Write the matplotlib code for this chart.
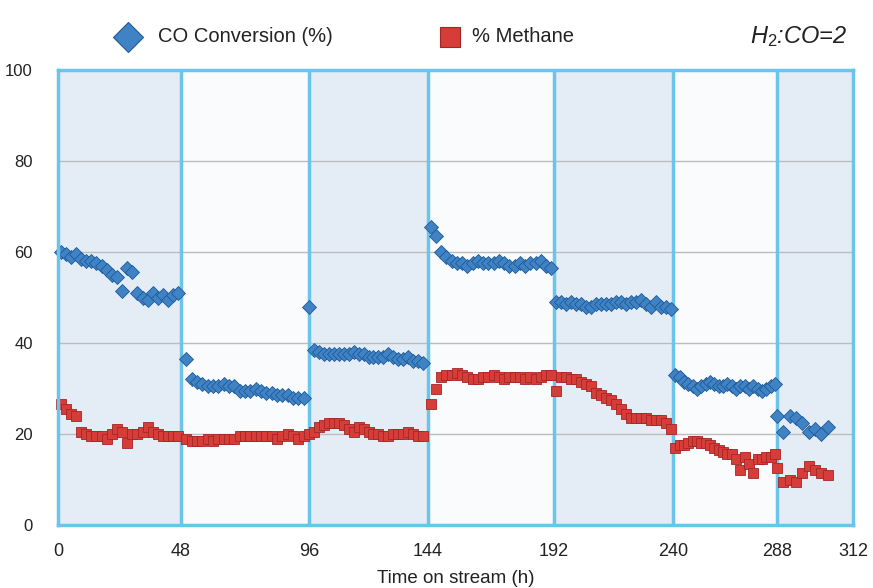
import matplotlib
matplotlib.use("Agg")
import matplotlib.pyplot as plt
import numpy as np
from matplotlib.lines import Line2D

plt.rcParams["font.family"] = ["Liberation Sans", "DejaVu Sans"]
plt.rcParams["mathtext.fontset"] = "custom"
plt.rcParams["mathtext.it"] = "Liberation Sans:italic"
plt.rcParams["mathtext.rm"] = "Liberation Sans"

# run boundaries (h) and where they sit on the original (uneven) axis
hour_breaks = [0, 48, 96, 144, 192, 240, 288, 312]
axis_breaks = [0, 123, 251, 370, 496, 615, 719, 795]

# sampling times for each run
times = [
    np.arange(1, 48, 2),
    np.arange(50, 95, 2),
    np.arange(96, 143, 2),
    np.arange(145, 192, 2),
    np.arange(193, 240, 2),
    np.arange(241, 288, 2),
    np.arange(288, 305, 2),
]

co_conv = [
    [60, 59.5, 59, 59.5, 58.5, 58, 58, 57.5, 57, 56, 55, 54.5,
     51.5, 56.5, 55.5, 51, 50, 49.5, 51, 50, 50.5, 49.5, 50.5, 51],
    [36.5, 32, 31.5, 31, 30.5, 30.5, 30.5, 31, 30.5, 30.5, 29.5, 29.5,
     29.5, 30, 29.5, 29, 29, 28.5, 28.5, 28.5, 28, 28, 28],
    [48, 38.5, 38, 37.5, 37.5, 37.5, 37.5, 37.5, 37.5, 38, 37.5, 37.5,
     37, 37, 37, 37, 37.5, 37, 36.5, 36.5, 37, 36, 36, 35.5],
    [65.5, 63.5, 60, 59, 58, 57.5, 57.5, 57, 57.5, 58, 57.5, 57.5,
     57.5, 58, 57.5, 57, 57, 57.5, 57, 57.5, 57.5, 58, 57, 56.5],
    [49, 49, 48.5, 49, 48.5, 48.5, 48, 48, 48.5, 48.5, 48.5, 48.5,
     49, 49, 48.5, 49, 49, 49.5, 48.5, 48, 49, 48, 48, 47.5],
    [33, 32.5, 31.5, 31, 30.5, 30, 30.5, 31, 31.5, 31, 30.5, 30.5,
     31, 30.5, 30, 30.5, 30.5, 30, 30.5, 30, 29.5, 30, 30.5, 31],
    [24, 20.5, 24, 23.5, 22.5, 20.5, 21, 20, 21.5],
]

methane = [
    [26.5, 25.5, 24.5, 24, 20.5, 20, 19.5, 19.5, 19.5, 19, 20, 21,
     20.5, 18, 20, 20, 20.5, 21.5, 20.5, 20, 19.5, 19.5, 19.5, 19.5],
    [19, 18.5, 18.5, 18.5, 19, 18.5, 19, 19, 19, 19, 19.5, 19.5,
     19.5, 19.5, 19.5, 19.5, 19.5, 19, 19.5, 20, 19.5, 19, 19.5],
    [20, 20.5, 21.5, 22, 22.5, 22.5, 22.5, 22, 21, 20.5, 21.5, 21,
     20.5, 20, 20, 19.5, 19.5, 20, 20, 20, 20.5, 20, 19.5, 19.5],
    [26.5, 30, 32.5, 33, 33, 33.5, 33, 32.5, 32, 32, 32.5, 32.5,
     33, 32.5, 32, 32.5, 32.5, 32.5, 32, 32.5, 32, 32.5, 33, 33],
    [29.5, 32.5, 32.5, 32, 32, 31.5, 31, 30.5, 29, 28.5, 28, 27.5,
     26.5, 25.5, 24.5, 23.5, 23.5, 23.5, 23.5, 23, 23, 23, 22.5, 21],
    [17, 17.5, 17.5, 18, 18.5, 18.5, 18, 18, 17.5, 17, 16.5, 16,
     15.5, 15.5, 14.5, 12, 15, 13.5, 11.5, 14.5, 14.5, 15, 15, 15.5],
    [12.5, 9.5, 10, 9.5, 11.5, 13, 12, 11.5, 11],
]

x_ticks = hour_breaks
y_ticks = [0, 20, 40, 60, 80, 100]

BLUE = "#3f83c5"
BLUE_EDGE = "#1d5a98"
RED = "#d63c38"
RED_EDGE = "#a32624"
FRAME = "#6cc4ea"


def fwd(x):
    return np.interp(x, hour_breaks, axis_breaks)


def inv(x):
    return np.interp(x, axis_breaks, hour_breaks)


fig = plt.figure(figsize=(8.73, 5.88), dpi=100)
ax = fig.add_axes([58 / 873, 63 / 588, 795 / 873, 455 / 588])
ax.set_xscale("function", functions=(fwd, inv))
ax.set_xlim(0, 312)
ax.set_ylim(0, 100)

# alternating shaded runs
for i in range(len(hour_breaks) - 1):
    shade = "#e4edf6" if i % 2 == 0 else "#f9fbfd"
    ax.axvspan(hour_breaks[i], hour_breaks[i + 1], color=shade, zorder=0, lw=0)
for h in hour_breaks[1:-1]:
    ax.axvline(h, color=FRAME, lw=2.5, zorder=2)

ax.set_yticks(y_ticks)
ax.yaxis.grid(True, color="#bcbcbc", lw=1.0, zorder=1)
ax.set_axisbelow(True)

t_all = np.concatenate(times)
ax.plot(t_all, np.concatenate(co_conv), "D", ms=7, mfc=BLUE, mec=BLUE_EDGE,
        mew=0.6, zorder=4, clip_on=False)
ax.plot(t_all, np.concatenate(methane), "s", ms=6.5, mfc=RED, mec=RED_EDGE,
        mew=0.6, zorder=3, clip_on=False)

for s in ax.spines.values():
    s.set_color(FRAME)
    s.set_linewidth(2.5)
    s.set_zorder(5)

ax.set_xticks(x_ticks)
ax.set_xticklabels([str(v) for v in x_ticks])
ax.tick_params(axis="both", length=0, colors="#222222")
ax.tick_params(axis="x", labelsize=13, pad=13)
ax.tick_params(axis="y", labelsize=12, pad=18)
ax.set_xlabel("Time on stream (h)", fontsize=13.5, color="#222222", labelpad=7)

# legend strip above the plot
fig.add_artist(Line2D([128 / 873], [1 - 37 / 588], marker="D", ms=15, mfc=BLUE,
                      mec=BLUE_EDGE, mew=0.8, transform=fig.transFigure))
fig.text(158 / 873, 1 - 37 / 588, "CO Conversion (%)", fontsize=14.5,
         va="center", ha="left", color="#222222")
fig.add_artist(Line2D([450 / 873], [1 - 37 / 588], marker="s", ms=14, mfc=RED,
                      mec=RED_EDGE, mew=0.8, transform=fig.transFigure))
fig.text(472 / 873, 1 - 37 / 588, "% Methane", fontsize=14.5,
         va="center", ha="left", color="#222222")
fig.text(848 / 873, 1 - 37 / 588, r"$\mathit{H_2}$:CO=2", fontsize=17,
         style="italic", va="center", ha="right", color="#222222")

fig.savefig("out.png", dpi=100)
